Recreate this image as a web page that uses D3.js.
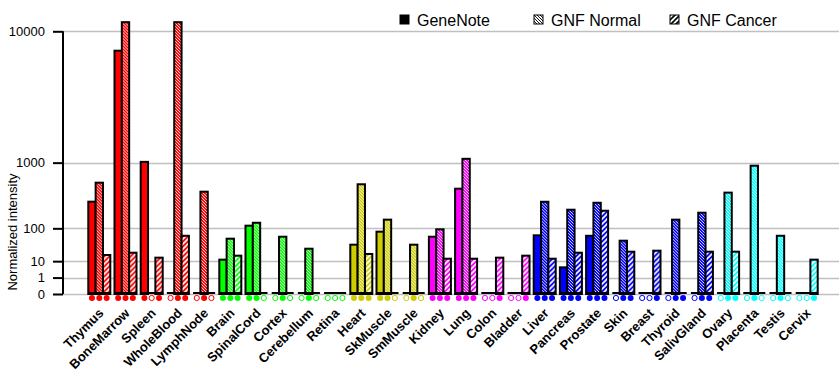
<!DOCTYPE html>
<html>
<head>
<meta charset="utf-8">
<script src="https://cdn.jsdelivr.net/npm/d3@7"></script>
<style>
  body { margin: 0; background: #fff; }
  svg { display: block; font-family: Arial, "Liberation Sans", sans-serif; }
</style>
</head>
<body>
<div id="chart"></div>
<script>
// tissues shown on the x axis
const categories = ['Thymus', 'BoneMarrow', 'Spleen', 'WholeBlood', 'LymphNode',
    'Brain', 'SpinalCord', 'Cortex', 'Cerebellum', 'Retina',
    'Heart', 'SkMuscle', 'SmMuscle',
    'Kidney', 'Lung', 'Colon', 'Bladder',
    'Liver', 'Pancreas', 'Prostate', 'Skin', 'Breast', 'Thyroid', 'SalivGland',
    'Ovary', 'Placenta', 'Testis', 'Cervix'];

// colour of each tissue group
const groupColors = ['#ff0000', '#ff0000', '#ff0000', '#ff0000', '#ff0000',
    '#00ff00', '#00ff00', '#00ff00', '#00ff00', '#00ff00',
    '#cccc00', '#cccc00', '#cccc00',
    '#ff00ff', '#ff00ff', '#ff00ff', '#ff00ff',
    '#0000ff', '#0000ff', '#0000ff', '#0000ff', '#0000ff', '#0000ff', '#0000ff',
    '#00ffff', '#00ffff', '#00ffff', '#00ffff'];

const seriesNames = ['GeneNote', 'GNF Normal', 'GNF Cancer'];

// normalized intensity (0 = no bar)
const geneNote = [310, 7750, 1020, 0, 0, 11.6, 114, 0, 0, 0, 38.6, 84, 0,
    63.5, 480, 0, 0, 68.8, 5.0, 67, 0, 0, 0, 0, 0, 0, 0, 0];
const gnfNormal = [577, 11200, 0, 11200, 436, 56.5, 131, 63.5, 29.1, 0, 550, 151, 38.6,
    95, 1100, 0, 0, 309, 229, 298, 50, 0, 151, 203, 423, 925, 67, 0];
const gnfCancer = [17.7, 21.4, 14.0, 67, 0, 16.7, 0, 0, 0, 0, 19.3, 0, 0,
    12.7, 12.7, 14.0, 16.7, 12.7, 21.4, 220, 23.2, 25.1, 0, 23.2, 23.2, 0, 0, 11.6];

// present calls under the bars (1 = filled marker, 0 = open marker)
const geneNoteCall = [1, 1, 1, 0, 0, 1, 1, 0, 0, 0, 1, 1, 0, 1, 1, 0, 0, 1, 1, 1, 0, 0, 0, 0, 0, 0, 0, 0];
const gnfNormalCall = [1, 1, 0, 1, 1, 1, 1, 1, 1, 0, 1, 1, 1, 1, 1, 0, 0, 1, 1, 1, 1, 0, 1, 1, 1, 1, 1, 0];
const gnfCancerCall = [1, 1, 1, 1, 0, 1, 0, 0, 0, 0, 1, 0, 0, 1, 1, 1, 1, 1, 1, 1, 1, 1, 1, 1, 1, 0, 0, 1];

const yTicks = [0, 1, 10, 100, 1000, 10000];

const width = 840, height = 385;
const plotLeft = 63, plotRight = 839, plotTop = 31.3, plotBottom = 294;

const svg = d3.select('#chart').append('svg')
    .attr('width', width)
    .attr('height', height);

// each decade takes twice the height of the previous one
const y = d3.scalePow().exponent(Math.log10(2))
    .domain([0, 10000])
    .range([plotBottom, plotTop]);

const x = d3.scaleBand()
    .domain(categories)
    .range([86.2, 819.8])
    .paddingInner(0.16)
    .paddingOuter(0.08);

const series = [geneNote, gnfNormal, gnfCancer];
const calls = [geneNoteCall, gnfNormalCall, gnfCancerCall];

const xSub = d3.scaleBand()
    .domain(d3.range(series.length))
    .range([0, x.bandwidth()]);

// patterns: hatching per colour
const defs = svg.append('defs');
const uniqueColors = Array.from(new Set(groupColors)).concat(['#ffffff']);
const pid = (c, k) => `p${k}_${c.replace('#', '')}`;
uniqueColors.forEach(c => {
    const line = c === '#ffffff' ? '#000' : '#fff';
    const pn = defs.append('pattern')
        .attr('id', pid(c, 1))
        .attr('patternUnits', 'userSpaceOnUse')
        .attr('width', 3).attr('height', 3);
    pn.append('rect').attr('width', 3).attr('height', 3).attr('fill', c);
    pn.append('path')
        .attr('d', 'M-1,-1L4,4M-1,2L1,4M2,-1L4,1')
        .attr('stroke', line)
        .attr('stroke-width', 0.9);

    const pc = defs.append('pattern')
        .attr('id', pid(c, 2))
        .attr('patternUnits', 'userSpaceOnUse')
        .attr('width', 5).attr('height', 5);
    pc.append('rect').attr('width', 5).attr('height', 5).attr('fill', c);
    pc.append('path')
        .attr('d', 'M-1,6L6,-1M-1,1L1,-1M4,6L6,4')
        .attr('stroke', line)
        .attr('stroke-width', 1.6);
});

const fillFor = (c, k) => k === 0 ? c : `url(#${pid(c, k)})`;

// grid lines
svg.append('g')
    .selectAll('line')
    .data(yTicks)
    .enter().append('line')
    .attr('x1', plotLeft)
    .attr('x2', plotRight)
    .attr('y1', d => Math.round(y(d)) + 0.5)
    .attr('y2', d => Math.round(y(d)) + 0.5)
    .attr('stroke', '#c0c0c0')
    .attr('stroke-width', 1.5);

// y axis
const yAxis = d3.axisLeft(y)
    .tickValues(yTicks)
    .tickFormat(d3.format('d'))
    .tickSize(10)
    .tickPadding(8);
const gy = svg.append('g')
    .attr('transform', `translate(${plotLeft},0)`)
    .call(yAxis);
gy.select('.domain')
    .attr('d', `M0,${plotTop}V${plotBottom}`)
    .attr('stroke', '#000')
    .attr('stroke-width', 2);
gy.selectAll('.tick line').attr('stroke', '#000').attr('stroke-width', 2);
gy.selectAll('.tick text')
    .attr('font-size', 13)
    .attr('font-family', 'Arial, "Liberation Sans", sans-serif')
    .attr('fill', '#000');

svg.append('text')
    .attr('transform', `translate(17,232) rotate(-90)`)
    .attr('text-anchor', 'middle')
    .attr('font-size', 13)
    .text('Normalized intensity');

// bars
const groups = svg.append('g')
    .selectAll('g')
    .data(categories)
    .enter().append('g')
    .attr('transform', d => `translate(${x(d)},0)`);

groups.each(function (cat, i) {
    const g = d3.select(this);
    const color = groupColors[i];
    const bars = series.map((s, k) => ({ k, v: s[i] })).filter(d => d.v > 0);
    g.selectAll('rect')
        .data(bars)
        .enter().append('rect')
        .attr('x', d => xSub(d.k))
        .attr('width', xSub.bandwidth())
        .attr('y', d => y(d.v))
        .attr('height', d => y(0) - y(d.v))
        .attr('fill', d => fillFor(color, d.k))
        .attr('stroke', '#000')
        .attr('stroke-width', 2);

    // baseline segment under the group
    g.append('line')
        .attr('x1', 0)
        .attr('x2', x.bandwidth())
        .attr('y1', y(0) - 1)
        .attr('y2', y(0) - 1)
        .attr('stroke', '#000')
        .attr('stroke-width', 2);

    // call markers
    g.selectAll('circle')
        .data(calls.map((c, k) => ({ k, on: c[i] })))
        .enter().append('circle')
        .attr('cx', d => xSub(d.k) + xSub.bandwidth() / 2)
        .attr('cy', y(0) + 4)
        .attr('r', d => d.on ? 3 : 2.6)
        .attr('fill', d => d.on ? color : '#fff')
        .attr('stroke', color)
        .attr('stroke-width', d => d.on ? 0 : 1);
});

// x labels
svg.append('g')
    .selectAll('text')
    .data(categories)
    .enter().append('text')
    .attr('transform', d => `translate(${x(d) + x.bandwidth() / 2 + 5},314) rotate(-45)`)
    .attr('text-anchor', 'end')
    .attr('font-size', 13)
    .attr('font-weight', 'bold')
    .text(d => d);

// legend
const legendX = [400, 534, 670];
const legend = svg.append('g')
    .selectAll('g')
    .data(seriesNames)
    .enter().append('g')
    .attr('transform', (d, i) => `translate(${legendX[i]},15)`);
legend.append('rect')
    .attr('width', 9)
    .attr('height', 9)
    .attr('fill', (d, i) => i === 0 ? '#000' : `url(#${pid('#ffffff', i)})`)
    .attr('stroke', '#000')
    .attr('stroke-width', 1);
legend.append('text')
    .attr('x', 17)
    .attr('y', 11)
    .attr('font-size', 16)
    .text(d => d);
</script>
</body>
</html>
